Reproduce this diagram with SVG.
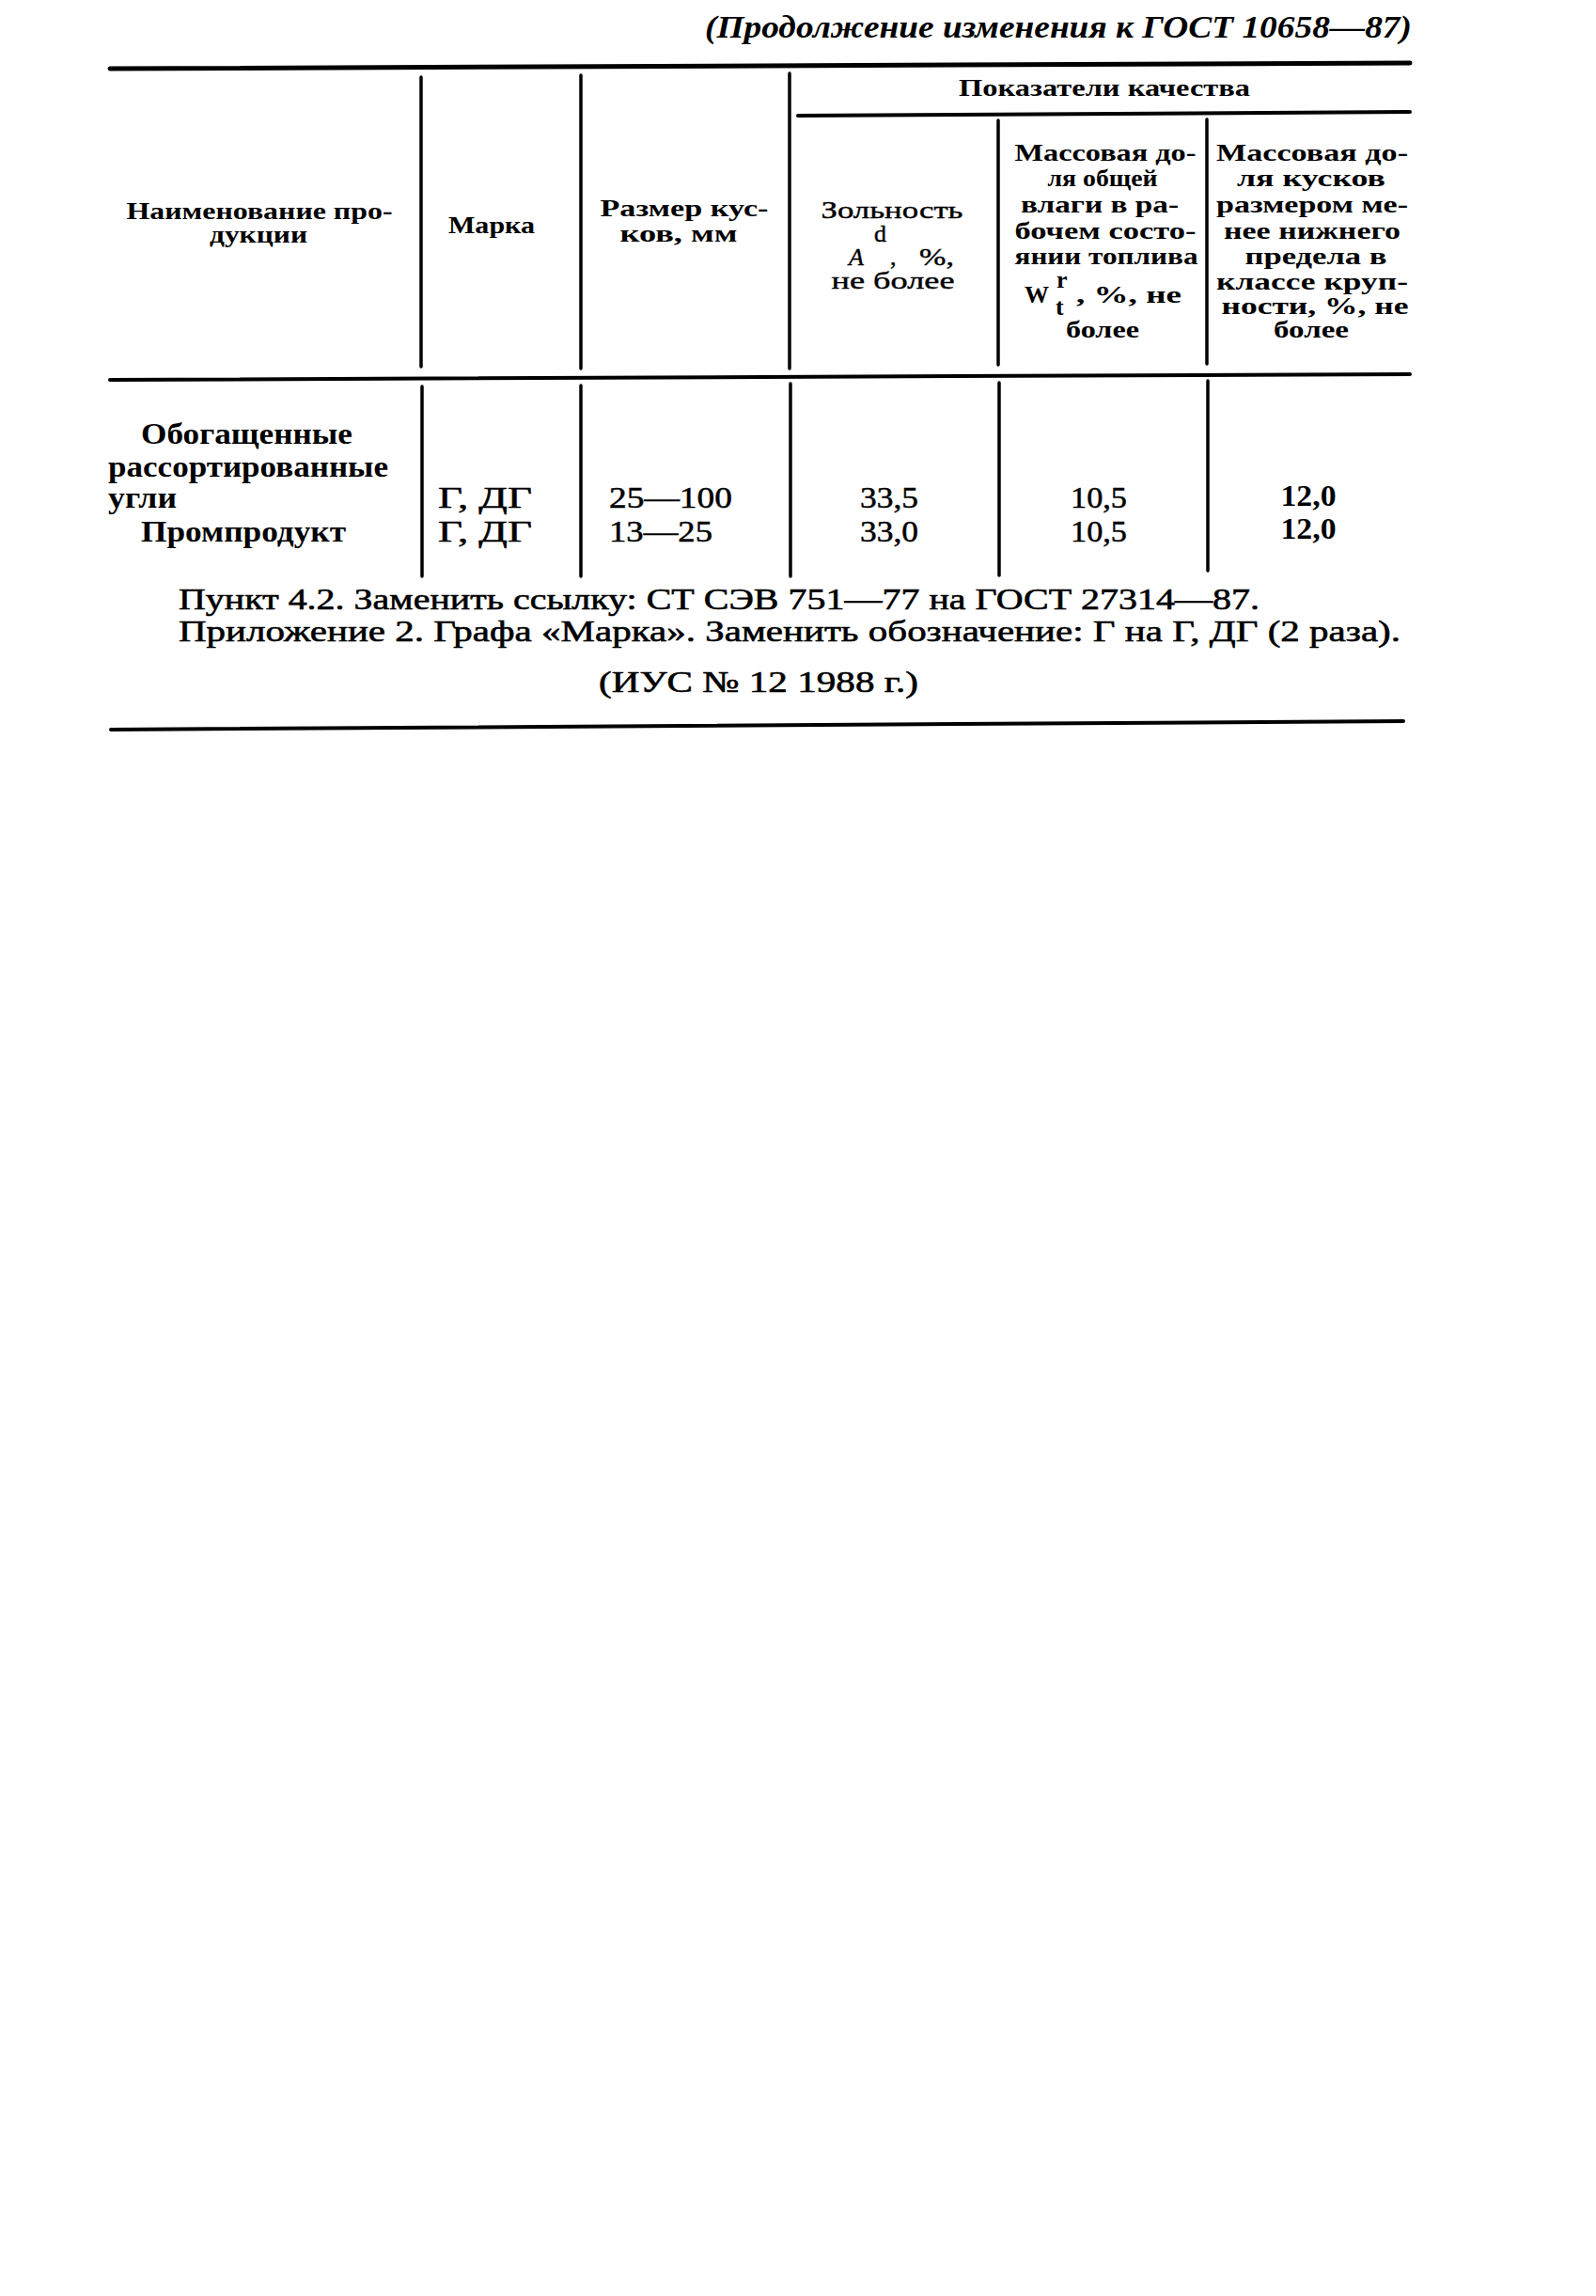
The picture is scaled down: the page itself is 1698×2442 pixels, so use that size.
<svg xmlns="http://www.w3.org/2000/svg" width="1698" height="2442" viewBox="0 0 1698 2442">
<style>
text{font-family:"Liberation Serif","Times New Roman",serif;fill:#000}
.t{font-size:34px;font-weight:bold;font-style:italic}
.h{font-size:26px;font-weight:bold}
.hr{font-size:26px;stroke:#000;stroke-width:0.4}
.d{font-size:32px;font-weight:bold}
.n{font-size:32px;stroke:#000;stroke-width:0.5}
.nb{font-size:32px;font-weight:bold}
.f{font-size:32px;stroke:#000;stroke-width:0.6}
.c{text-anchor:middle}
.rule{stroke:#000;fill:none;stroke-linecap:round}
</style>
<rect width="1698" height="2442" fill="#fff"/>
<g id="title"><text class="t" x="750" y="40" textLength="752" lengthAdjust="spacingAndGlyphs">(Продолжение изменения к ГОСТ 10658—87)</text></g>
<g id="connectors">
<line class="rule" x1="117" y1="73" x2="1500" y2="67" stroke-width="5"/>
<line class="rule" x1="849" y1="123" x2="1500" y2="119" stroke-width="4"/>
<line class="rule" x1="117" y1="404" x2="1500" y2="398" stroke-width="4"/>
<line class="rule" x1="118" y1="776" x2="1493" y2="767" stroke-width="4"/>
<line class="rule" x1="448" y1="82" x2="448" y2="390" stroke-width="3.5"/>
<line class="rule" x1="618" y1="80" x2="618" y2="392" stroke-width="3.5"/>
<line class="rule" x1="840" y1="78" x2="840" y2="392" stroke-width="3.5"/>
<line class="rule" x1="1062" y1="128" x2="1062" y2="388" stroke-width="3.5"/>
<line class="rule" x1="1284" y1="127" x2="1284" y2="387" stroke-width="3.5"/>
<line class="rule" x1="449" y1="411" x2="449" y2="613" stroke-width="3.5"/>
<line class="rule" x1="618" y1="410" x2="618" y2="613" stroke-width="3.5"/>
<line class="rule" x1="841" y1="408" x2="841" y2="613" stroke-width="3.5"/>
<line class="rule" x1="1063" y1="407" x2="1063" y2="612" stroke-width="3.5"/>
<line class="rule" x1="1285" y1="405" x2="1285" y2="607" stroke-width="3.5"/>
</g>
<g id="head-name">
<text class="h c" x="276" y="233" textLength="283" lengthAdjust="spacingAndGlyphs">Наименование про-</text>
<text class="h c" x="275" y="258" textLength="104" lengthAdjust="spacingAndGlyphs">дукции</text>
</g>
<g id="head-mark"><text class="h c" x="523" y="248" textLength="92" lengthAdjust="spacingAndGlyphs">Марка</text></g>
<g id="head-size">
<text class="h c" x="728" y="230" textLength="179" lengthAdjust="spacingAndGlyphs">Размер кус-</text>
<text class="h c" x="722" y="257" textLength="125" lengthAdjust="spacingAndGlyphs">ков, мм</text>
</g>
<g id="head-quality"><text class="h c" x="1175" y="102" textLength="310" lengthAdjust="spacingAndGlyphs">Показатели качества</text></g>
<g id="head-ash">
<text class="hr c" x="949" y="232" textLength="151" lengthAdjust="spacingAndGlyphs">Зольность</text>
<text class="hr" x="903" y="282" font-style="italic" font-size="28">A</text>
<text class="hr" x="930" y="257" font-size="22">d</text>
<text class="hr" x="947" y="282">,</text>
<text class="hr" x="978" y="282" textLength="37" lengthAdjust="spacingAndGlyphs">%,</text>
<text class="hr c" x="950" y="307" textLength="131" lengthAdjust="spacingAndGlyphs">не более</text>
</g>
<g id="head-moisture">
<text class="h c" x="1176" y="171" textLength="193" lengthAdjust="spacingAndGlyphs">Массовая до-</text>
<text class="h c" x="1173" y="198" textLength="117" lengthAdjust="spacingAndGlyphs">ля общей</text>
<text class="h c" x="1170" y="226" textLength="168" lengthAdjust="spacingAndGlyphs">влаги в ра-</text>
<text class="h c" x="1176" y="254" textLength="193" lengthAdjust="spacingAndGlyphs">бочем состо-</text>
<text class="h c" x="1177" y="281" textLength="195" lengthAdjust="spacingAndGlyphs">янии топлива</text>
<text class="h" x="1090" y="322" font-size="30">W</text>
<text class="h" x="1124" y="306" font-size="18">r</text>
<text class="h" x="1123" y="335" font-size="22">t</text>
<text class="h" x="1145" y="322" textLength="112" lengthAdjust="spacingAndGlyphs">, %, не</text>
<text class="h c" x="1173" y="359" textLength="78" lengthAdjust="spacingAndGlyphs">более</text>
</g>
<g id="head-fines">
<text class="h c" x="1396" y="171" textLength="204" lengthAdjust="spacingAndGlyphs">Массовая до-</text>
<text class="h c" x="1395" y="198" textLength="158" lengthAdjust="spacingAndGlyphs">ля кусков</text>
<text class="h c" x="1396" y="226" textLength="204" lengthAdjust="spacingAndGlyphs">размером ме-</text>
<text class="h c" x="1396" y="254" textLength="188" lengthAdjust="spacingAndGlyphs">нее нижнего</text>
<text class="h c" x="1400" y="281" textLength="151" lengthAdjust="spacingAndGlyphs">предела в</text>
<text class="h c" x="1396" y="308" textLength="204" lengthAdjust="spacingAndGlyphs">классе круп-</text>
<text class="h c" x="1399" y="334" textLength="199" lengthAdjust="spacingAndGlyphs">ности, %, не</text>
<text class="h c" x="1395" y="359" textLength="80" lengthAdjust="spacingAndGlyphs">более</text>
</g>
<g id="row-1">
<text class="d" x="150" y="472" textLength="225" lengthAdjust="spacingAndGlyphs">Обогащенные</text>
<text class="d" x="115" y="507" textLength="298" lengthAdjust="spacingAndGlyphs">рассортированные</text>
<text class="d" x="115" y="540" textLength="73" lengthAdjust="spacingAndGlyphs">угли</text>
<text class="n" x="466" y="540" textLength="100" lengthAdjust="spacingAndGlyphs">Г, ДГ</text>
<text class="n" x="648" y="540" textLength="131" lengthAdjust="spacingAndGlyphs">25—100</text>
<text class="n c" x="946" y="540" textLength="62" lengthAdjust="spacingAndGlyphs">33,5</text>
<text class="n c" x="1169" y="540" textLength="60" lengthAdjust="spacingAndGlyphs">10,5</text>
<text class="nb c" x="1392" y="538" textLength="59" lengthAdjust="spacingAndGlyphs">12,0</text>
</g>
<g id="row-2">
<text class="d" x="150" y="576" textLength="218" lengthAdjust="spacingAndGlyphs">Промпродукт</text>
<text class="n" x="466" y="576" textLength="100" lengthAdjust="spacingAndGlyphs">Г, ДГ</text>
<text class="n" x="648" y="576" textLength="110" lengthAdjust="spacingAndGlyphs">13—25</text>
<text class="n c" x="946" y="576" textLength="62" lengthAdjust="spacingAndGlyphs">33,0</text>
<text class="n c" x="1169" y="576" textLength="60" lengthAdjust="spacingAndGlyphs">10,5</text>
<text class="nb c" x="1392" y="573" textLength="59" lengthAdjust="spacingAndGlyphs">12,0</text>
</g>
<g id="footer">
<text class="f" x="190" y="648" textLength="1150" lengthAdjust="spacingAndGlyphs">Пункт 4.2. Заменить ссылку: СТ СЭВ 751—77 на ГОСТ 27314—87.</text>
<text class="f" x="190" y="682" textLength="1300" lengthAdjust="spacingAndGlyphs">Приложение 2. Графа «Марка». Заменить обозначение: Г на Г, ДГ (2 раза).</text>
<text class="f" x="637" y="736" textLength="340" lengthAdjust="spacingAndGlyphs">(ИУС № 12 1988 г.)</text>
</g>
</svg>
